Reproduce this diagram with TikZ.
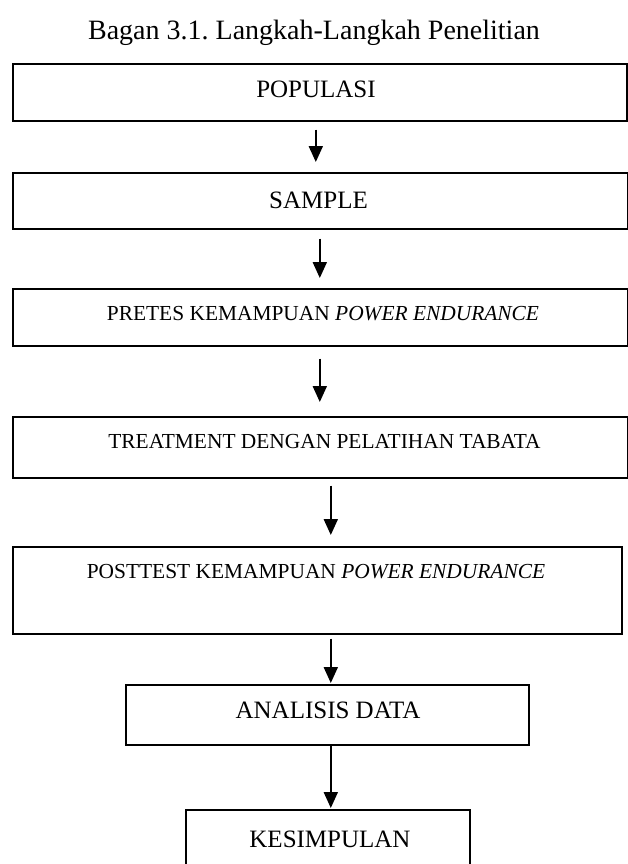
\documentclass[tikz,border=0pt]{standalone}
\usepackage{fontspec}
\setmainfont{Liberation Serif}
\usetikzlibrary{arrows.meta,calc}
\frenchspacing
\begin{document}
\begin{tikzpicture}[x=1pt,y=-1pt,
  box/.style={draw, line width=1.6pt, inner sep=0pt, anchor=north west},
  big/.style={font=\fontsize{25}{30}\selectfont, inner sep=0pt, anchor=base},
  small/.style={font=\fontsize{21.4}{26}\selectfont, inner sep=0pt, anchor=base},
  arr/.style={line width=2pt, -{Triangle[width=14pt,length=16pt]}}]
\useasboundingbox (0,0) rectangle (628,864);
\clip (0,0) rectangle (628,864);

% title
\node[font=\fontsize{28}{33}\selectfont, inner sep=0pt, anchor=base] (title) at (314,40)
  {Bagan 3.1. Langkah-Langkah Penelitian};

% step boxes
\node[box, minimum width=614pt, minimum height=57pt] (b1) at (12,63) {};
\node[box, minimum width=615pt, minimum height=56pt] (b2) at (12,172) {};
\node[box, minimum width=615pt, minimum height=57pt] (b3) at (12,288) {};
\node[box, minimum width=615pt, minimum height=61pt] (b4) at (12,416) {};
\node[box, minimum width=609pt, minimum height=87pt] (b5) at (12,546) {};
\node[box, minimum width=403pt, minimum height=60pt] (b6) at (125,684) {};
\node[box, minimum width=284pt, minimum height=62pt] (b7) at (185,809) {};

% step labels
\node[big] (t1) at (316,98) {POPULASI};
\node[big] (t2) at (318.5,208) {SAMPLE};
\node[small] (t3) at (323,320) {PRETES KEMAMPUAN \textit{POWER ENDURANCE}};
\node[small] (t4) at (324.5,448) {TREATMENT DENGAN PELATIHAN TABATA};
\node[small] (t5) at (316,578) {POSTTEST KEMAMPUAN \textit{POWER ENDURANCE}};
\node[big] (t6) at (328,718) {ANALISIS DATA};
\node[big] (t7) at (330,847) {KESIMPULAN};

% arrows between steps
\draw[arr] ($(b1.south)+(-4,8)$) -- ($(b2.north)+(-4.5,-10)$);
\draw[arr] ($(b2.south)+(-0.5,9)$) -- ($(b3.north)+(-0.5,-10)$);
\draw[arr] ($(b3.south)+(-0.5,12)$) -- ($(b4.north)+(-0.5,-14)$);
\draw[arr] ($(b4.south)+(10.5,7)$) -- ($(b5.north)+(13.5,-11)$);
\draw[arr] ($(b5.south)+(13.5,4)$) -- ($(b6.north)+(3.5,-1)$);
\draw[arr] ($(b6.south)+(3.5,0)$) -- ($(b7.north)+(3,-1)$);
\end{tikzpicture}
\end{document}
